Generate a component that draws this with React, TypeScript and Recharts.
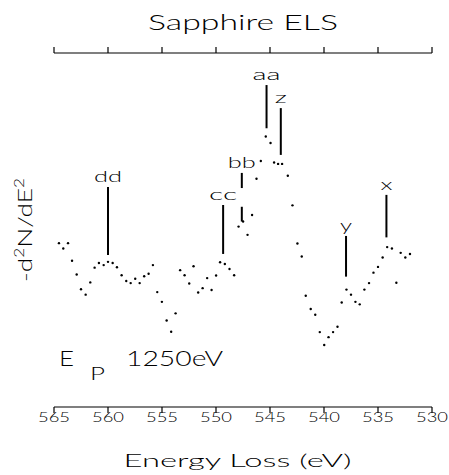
import { ScatterChart, Scatter, XAxis, YAxis, ReferenceLine } from "recharts"

const energyLoss = [
  564.54, 564.14, 563.7, 563.33, 562.9, 562.5, 562.07, 561.64, 561.24, 560.84,
  560.4, 560.0, 559.57, 559.17, 558.74, 558.31, 557.9, 557.48, 557.07, 556.65,
  556.24, 555.84, 555.44, 555.01, 554.57, 554.15, 553.74, 553.32, 552.91, 552.48,
  552.08, 551.65, 551.24, 550.82, 550.41, 549.99, 549.62, 549.18, 548.75, 548.32,
  547.91, 547.49, 547.08, 546.66, 546.25, 545.85, 545.39, 544.95, 544.62, 544.25,
  543.88, 543.35, 542.92, 542.46, 542.06, 541.69, 541.23, 540.81, 540.39, 539.98,
  539.58, 539.16, 538.75, 538.36, 537.92, 537.5, 537.09, 536.69, 536.26, 535.83,
  535.42, 535.0, 534.57, 534.15, 533.71, 533.3, 532.9, 532.47, 532.04,
]

// -d2N/dE2 in arbitrary units (no scale on the original)
const signal = [
  45.5, 44.0, 45.5, 40.6, 36.8, 32.7, 31.2, 34.6, 38.7, 40.0,
  39.4, 40.3, 40.0, 38.8, 36.6, 35.0, 34.4, 35.6, 34.4, 36.3,
  37.0, 39.4, 31.9, 29.2, 24.0, 20.9, 26.0, 38.0, 36.6, 34.3,
  39.1, 31.8, 33.0, 35.8, 32.5, 36.5, 40.2, 39.7, 38.3, 36.6,
  50.1, 51.5, 47.8, 53.3, 63.4, 68.3, 75.1, 73.3, 67.9, 67.5,
  67.5, 64.2, 56.0, 45.4, 41.8, 30.9, 27.2, 25.6, 20.8, 17.2,
  19.4, 20.8, 22.3, 29.0, 32.6, 31.2, 29.2, 28.5, 32.6, 34.4,
  37.3, 38.9, 41.5, 44.4, 44.0, 34.5, 42.8, 41.5, 42.5,
]

const energyTicks = [565, 560, 555, 550, 545, 540, 535, 530]

// labelled peak markers
const peakNames = ["dd", "cc", "bb", "aa", "z", "y", "x"]
const peakEnergy = [560.0, 549.34, 547.61, 545.32, 544.0, 537.96, 534.22]
const peakTop = [61.1, 56.1, 65.0, 89.4, 83.0, 47.5, 58.9]
const peakBottom = [42.2, 42.5, 51.5, 77.4, 70.0, 36.2, 47.1]
const peakGap: (number[] | null)[] = [null, null, [60.8, 55.6], null, null, null, null]

const FONT = "Lato, 'DejaVu Sans', sans-serif"
const INK = "#000"

const data = energyLoss.map((e, i) => ({ e, s: signal[i] }))

function Dot(props: any) {
  return <circle cx={props.cx} cy={props.cy} r={1.2} fill={INK} />
}

function TickLabel(props: any) {
  const { x, y, payload } = props
  return (
    <text
      x={x}
      y={y + 9}
      textAnchor="middle"
      fontFamily={FONT}
      fontWeight={300}
      fontSize={13}
      textLength={32}
      lengthAdjust="spacingAndGlyphs"
      fill={INK}
    >
      {payload.value}
    </text>
  )
}

function peakLabel(name: string) {
  return (props: any) => {
    const vb = props.viewBox
    return (
      <text
        x={vb.x}
        y={vb.y - 5}
        textAnchor="middle"
        fontFamily={FONT}
        fontWeight={300}
        fontSize={15}
        textLength={name.length === 1 ? 12 : 28}
        lengthAdjust="spacingAndGlyphs"
        fill={INK}
      >
        {name}
      </text>
    )
  }
}

export default function App() {
  const markers: any[] = []
  peakNames.forEach((name, i) => {
    const gap = peakGap[i]
    const common = {
      xAxisId: "b",
      yAxisId: "l",
      stroke: INK,
      strokeWidth: 2,
      ifOverflow: "visible" as const,
    }
    if (gap) {
      markers.push(
        <ReferenceLine
          key={name + "a"}
          {...common}
          segment={[{ x: peakEnergy[i], y: peakTop[i] }, { x: peakEnergy[i], y: gap[0] }]}
          label={peakLabel(name)}
        />,
        <ReferenceLine
          key={name + "b"}
          {...common}
          segment={[{ x: peakEnergy[i], y: gap[1] }, { x: peakEnergy[i], y: peakBottom[i] }]}
        />
      )
    } else {
      markers.push(
        <ReferenceLine
          key={name}
          {...common}
          segment={[{ x: peakEnergy[i], y: peakTop[i] }, { x: peakEnergy[i], y: peakBottom[i] }]}
          label={peakLabel(name)}
        />
      )
    }
  })

  return (
    <div style={{ position: "absolute", left: 0, top: 0, width: 449, height: 475, background: "#fff" }}>
      <ScatterChart width={449} height={475} margin={{ top: 43, right: 17, bottom: 38, left: 54 }}>
        <XAxis
          xAxisId="b"
          type="number"
          dataKey="e"
          domain={[530, 565]}
          reversed
          ticks={energyTicks}
          interval={0}
          height={30}
          tickSize={6}
          tickMargin={0}
          tick={<TickLabel />}
          axisLine={{ stroke: INK, strokeWidth: 1.2 }}
          tickLine={{ stroke: INK, strokeWidth: 1.2 }}
          allowDataOverflow
        />
        <XAxis
          xAxisId="t"
          orientation="top"
          type="number"
          dataKey="e"
          domain={[530, 565]}
          reversed
          ticks={energyTicks}
          interval={0}
          height={10}
          tickSize={6}
          tick={() => <g />}
          axisLine={{ stroke: INK, strokeWidth: 1.2 }}
          tickLine={{ stroke: INK, strokeWidth: 1.2 }}
          allowDataOverflow
        />
        <YAxis
          yAxisId="l"
          type="number"
          domain={[0, 98.3]}
          width={0}
          tick={false}
          tickLine={false}
          axisLine={{ stroke: INK, strokeWidth: 1.2 }}
          allowDataOverflow
        />
        <YAxis
          yAxisId="r"
          orientation="right"
          type="number"
          domain={[0, 98.3]}
          width={0}
          tick={false}
          tickLine={false}
          axisLine={{ stroke: INK, strokeWidth: 1.2 }}
        />
        <Scatter
          data={data}
          xAxisId="b"
          yAxisId="l"
          dataKey="s"
          shape={<Dot />}
          isAnimationActive={false}
        />
        {markers}
      </ScatterChart>
      <svg
        width={449}
        height={475}
        style={{ position: "absolute", left: 0, top: 0, pointerEvents: "none" }}
        fontFamily={FONT}
        fontWeight={300}
        fill={INK}
      >
        <text x={243} y={30} textAnchor="middle" fontSize={22} textLength={190} lengthAdjust="spacingAndGlyphs">
          Sapphire ELS
        </text>
        <text x={237.5} y={467} textAnchor="middle" fontSize={18} textLength={228} lengthAdjust="spacingAndGlyphs">
          Energy Loss (eV)
        </text>
        <text transform="translate(31.5,230) rotate(-90)" textAnchor="middle" fontSize={20} textLength={104} lengthAdjust="spacingAndGlyphs">
          -d<tspan dy={-8} fontSize={13}>2</tspan>
          <tspan dy={8}>N/dE</tspan>
          <tspan dy={-8} fontSize={13}>2</tspan>
        </text>
        <text x={59} y={366} fontSize={22} textLength={15} lengthAdjust="spacingAndGlyphs">E</text>
        <text x={90} y={380} fontSize={18} textLength={15} lengthAdjust="spacingAndGlyphs">P</text>
        <text x={126} y={366} fontSize={22} textLength={97} lengthAdjust="spacingAndGlyphs">1250eV</text>
      </svg>
    </div>
  )
}
